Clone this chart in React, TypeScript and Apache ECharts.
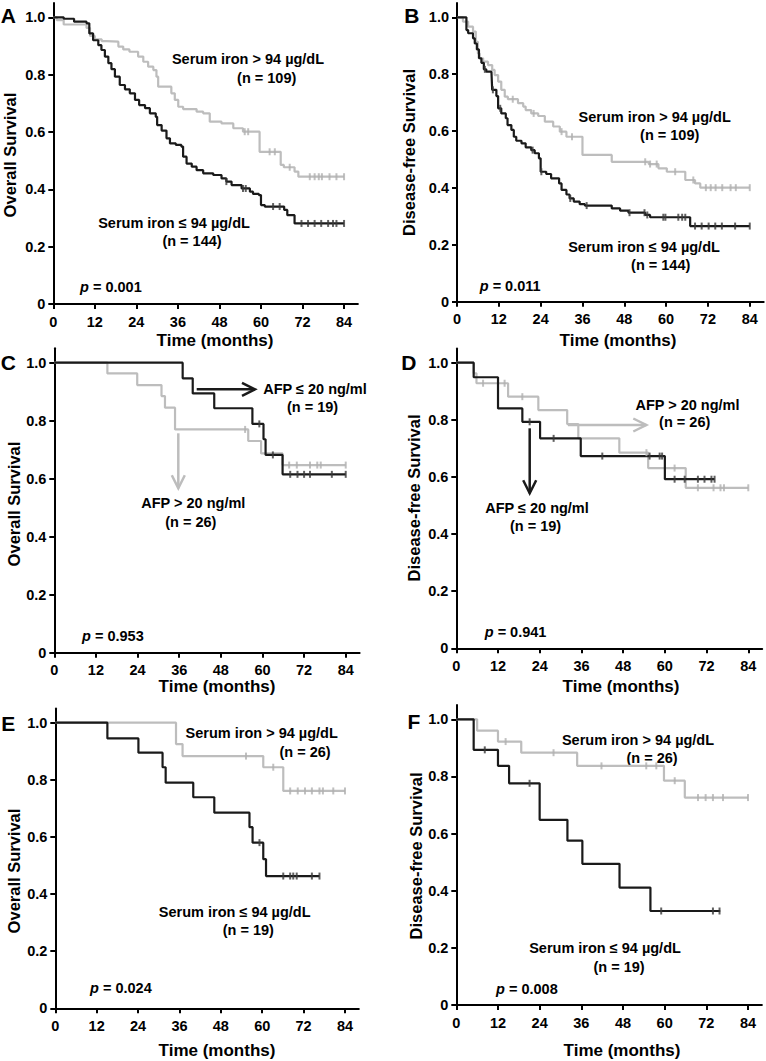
import React, { useEffect, useRef } from "react";
import * as echarts from "echarts";

const FONT = '"Liberation Sans", Arial, sans-serif';
const xTicks = [0, 12, 24, 36, 48, 60, 72, 84];
const yTicks = [0, 0.2, 0.4, 0.6, 0.8, 1.0];

// ---- Panel A (Overall survival, serum iron) ----
const aHighT = [0, 1, 3, 9.6, 10.6, 12, 14, 15.4, 18.8, 20.2, 22, 24.5, 26, 27.4, 28.9, 29.8, 30.3, 34.1, 35.1, 36.1, 37.5, 41.4, 43.3, 45.2, 48.6, 52, 54.8, 59.6, 65.7, 66.6, 69.7, 70.8, 84];
const aHighS = [1, 0.99, 0.975, 0.963, 0.935, 0.923, 0.917, 0.915, 0.898, 0.888, 0.88, 0.863, 0.845, 0.828, 0.816, 0.793, 0.758, 0.735, 0.712, 0.688, 0.68, 0.671, 0.665, 0.636, 0.63, 0.613, 0.601, 0.531, 0.485, 0.477, 0.462, 0.444, 0.444];
const aHighC = [55.3, 56.3, 62.5, 64, 68.3, 74.1, 75.5, 76.7, 77.6, 79.8, 81.8, 84];
const aLowT = [0, 3, 6, 9.6, 10.4, 11.5, 13, 13.9, 14.9, 15.9, 16.8, 17.8, 19.2, 20.7, 22.1, 23.6, 24.8, 26.5, 27.9, 29.6, 30, 31.3, 32.7, 33.7, 35.4, 37, 37.5, 38.5, 40, 41.4, 43.3, 46.2, 48.6, 50, 51.5, 54.4, 56.8, 57.7, 59.4, 60, 61.1, 66.7, 67.6, 69.7, 84];
const aLowS = [1, 0.995, 0.985, 0.979, 0.944, 0.92, 0.903, 0.886, 0.863, 0.84, 0.819, 0.793, 0.764, 0.749, 0.735, 0.712, 0.694, 0.683, 0.665, 0.653, 0.624, 0.605, 0.578, 0.56, 0.555, 0.549, 0.514, 0.49, 0.479, 0.467, 0.456, 0.45, 0.438, 0.427, 0.415, 0.403, 0.392, 0.384, 0.38, 0.345, 0.34, 0.328, 0.31, 0.281, 0.281];
const aLowC = [50, 54.8, 55.6, 63.5, 65.4, 71.7, 73.6, 75.5, 77.4, 79.4, 80.8, 81.8, 84];

// ---- Panel B (Disease-free survival, serum iron) ----
const bHighT = [0, 1.7, 3.2, 4.6, 5.4, 6, 6.5, 7.5, 8.9, 10.1, 10.8, 11.8, 12.7, 13.7, 14.6, 17.5, 19, 19.7, 21.3, 23.3, 25.2, 27.6, 29.5, 31.4, 36, 44.4, 55, 57.8, 60.2, 65.5, 68.3, 69.8, 84];
const bHighS = [1, 0.985, 0.967, 0.95, 0.914, 0.873, 0.856, 0.844, 0.832, 0.815, 0.797, 0.774, 0.745, 0.721, 0.712, 0.698, 0.686, 0.674, 0.662, 0.653, 0.633, 0.616, 0.598, 0.58, 0.516, 0.492, 0.484, 0.469, 0.457, 0.428, 0.416, 0.401, 0.401];
const bHighC = [16, 22, 30, 33, 54, 55.4, 57.3, 62.6, 67.8, 71.4, 72.8, 74.2, 76.1, 78.5, 80, 84];
const bLowT = [0, 2.7, 3.2, 4.6, 5.1, 5.7, 6.3, 7, 7.7, 8.4, 9.9, 10.1, 11.3, 11.8, 12.7, 14, 14.5, 15.6, 16.3, 17, 18.5, 19.7, 21.3, 22.3, 23.5, 24, 25.6, 27, 29.3, 30, 31.4, 32.3, 33.5, 35.2, 36.7, 44.4, 46.8, 49.2, 54, 55.4, 66.9, 84];
const bLowS = [1, 0.955, 0.944, 0.926, 0.908, 0.887, 0.856, 0.84, 0.817, 0.809, 0.803, 0.745, 0.723, 0.68, 0.662, 0.645, 0.621, 0.604, 0.58, 0.566, 0.557, 0.543, 0.533, 0.522, 0.504, 0.457, 0.449, 0.434, 0.416, 0.393, 0.377, 0.363, 0.352, 0.343, 0.338, 0.328, 0.32, 0.313, 0.305, 0.297, 0.266, 0.266];
const bLowC = [8, 10.3, 12.4, 21.7, 24.2, 32.5, 37.2, 49.5, 53.8, 54.6, 59.2, 59.8, 63.5, 64.6, 65.5, 68.3, 70.2, 72.2, 74.1, 76, 79.8, 84];

// ---- Panel C (Overall survival, AFP) ----
const cHighT = [0, 15.3, 23.9, 30.9, 31.9, 34.8, 55.9, 59.6, 65.8, 84];
const cHighS = [1, 0.963, 0.923, 0.885, 0.845, 0.77, 0.73, 0.687, 0.647, 0.647];
const cHighC = [55, 67.7, 69.9, 73.7, 75.8, 76.8, 84];
const cLowT = [0, 37, 39.9, 46.1, 57.1, 60.3, 60.9, 65.8, 84];
const cLowS = [1, 0.946, 0.894, 0.843, 0.789, 0.736, 0.682, 0.615, 0.615];
const cLowC = [59.1, 63, 68, 70.1, 72, 73.7, 80, 84];

// ---- Panel D (Disease-free survival, AFP) ----
const dHighT = [0, 5, 5.8, 14.9, 23.6, 31.9, 35.1, 46.9, 55.2, 66, 84];
const dHighS = [1, 0.963, 0.928, 0.881, 0.834, 0.785, 0.735, 0.685, 0.631, 0.562, 0.562];
const dHighC = [7.7, 13.9, 19, 54.7, 62.8, 69.5, 74, 76, 77, 84];
const dLowT = [0, 5, 12, 19, 24.1, 35.8, 60, 74.3];
const dLowS = [1, 0.949, 0.84, 0.793, 0.735, 0.673, 0.592, 0.592];
const dLowC = [21.1, 28, 42, 55.6, 58.5, 59.2, 62.8, 65.7, 69.5, 71.4, 73.4, 74.3];

// ---- Panel E (Overall survival, serum iron, AFP subgroup) ----
const eHighT = [0, 35, 36.9, 60.3, 66.1, 84];
const eHighS = [1, 0.925, 0.883, 0.844, 0.761, 0.761];
const eHighC = [55.3, 63.2, 68.1, 70.3, 72.4, 74.4, 76.6, 77.6, 80.6, 84];
const eLowT = [0, 15.1, 24.1, 31.1, 32, 40, 46.1, 56.3, 57.2, 60.3, 61.1, 76.6];
const eLowS = [1, 0.945, 0.895, 0.844, 0.79, 0.739, 0.685, 0.634, 0.58, 0.522, 0.463, 0.463];
const eLowC = [59.2, 66.1, 68.1, 69, 70, 74.4, 76.6];

// ---- Panel F (Disease-free survival, serum iron, AFP subgroup) ----
const fHighT = [0, 6, 12, 18.7, 34.8, 59.8, 65.8, 84];
const fHighS = [1, 0.96, 0.922, 0.883, 0.837, 0.785, 0.726, 0.726];
const fHighC = [14.2, 28, 41.8, 54.7, 57.6, 62.9, 69.6, 71.8, 73.9, 76.8, 84];
const fLowT = [0, 5, 12, 15.2, 24, 32, 36.3, 47, 55.9, 76];
const fLowS = [1, 0.893, 0.837, 0.776, 0.648, 0.575, 0.494, 0.411, 0.329, 0.329];
const fLowC = [8.2, 21.1, 59, 73.9, 75.8];

const panelData = [
  { high: [aHighT, aHighS, aHighC], low: [aLowT, aLowS, aLowC] },
  { high: [bHighT, bHighS, bHighC], low: [bLowT, bLowS, bLowC] },
  { high: [cHighT, cHighS, cHighC], low: [cLowT, cLowS, cLowC] },
  { high: [dHighT, dHighS, dHighC], low: [dLowT, dLowS, dLowC] },
  { high: [eHighT, eHighS, eHighC], low: [eLowT, eLowS, eLowC] },
  { high: [fHighT, fHighS, fHighC], low: [fLowT, fLowS, fLowC] },
];

// layout (pixels)
const grids = [
  { left: 53.3, top: 3, width: 304.6, height: 301 },
  { left: 457, top: 3.1, width: 306.7, height: 298.6 },
  { left: 54.3, top: 348.2, width: 305.3, height: 304.5 },
  { left: 456.3, top: 348.4, width: 305.9, height: 299.9 },
  { left: 55.3, top: 708.4, width: 303.5, height: 299.9 },
  { left: 456.3, top: 705, width: 305.6, height: 300 },
];

const BLACK = "#1a1a1a";
const GREY = "#bdbdbd";

function survAt(t: number[], s: number[], ct: number) {
  let v = s[0];
  for (let i = 0; i < t.length; i++) if (t[i] <= ct) v = s[i];
  return v;
}

function txt(text: string, x: number, y: number, size: number, rot = 0, style = "bold", align = "center") {
  return {
    type: "text",
    x,
    y,
    rotation: rot,
    silent: true,
    style: {
      text,
      fill: "#000",
      font: `${style} ${size}px ${FONT}`,
      align,
      verticalAlign: "middle",
      textAlign: align,
      textVerticalAlign: "middle",
    },
  };
}

function pval(label: string, x: number, y: number) {
  return [txt("p", x, y, 14.5, 0, "italic bold", "left"), txt(" = " + label, x + 8.9, y, 14.5, 0, "bold", "left")];
}

function arrow(x1: number, y1: number, x2: number, y2: number, color: string, dir: string) {
  const h = 13, w = 6.5;
  let head: number[][];
  if (dir === "right") head = [[x2 - h, y2 - w], [x2, y2], [x2 - h, y2 + w]];
  else head = [[x2 - w, y2 - h], [x2, y2], [x2 + w, y2 - h]];
  return [
    { type: "line", silent: true, shape: { x1, y1, x2, y2 }, style: { stroke: color, lineWidth: 2.5 } },
    { type: "polyline", silent: true, shape: { points: head }, style: { stroke: color, lineWidth: 2.5, fill: null } },
  ];
}

export default function App() {
  const ref = useRef<HTMLDivElement>(null);
  useEffect(() => {
    if (!ref.current) return;
    const chart = echarts.init(ref.current, undefined, { renderer: "svg" });
    const series: any[] = [];
    panelData.forEach((p, i) => {
      const groups = [
        { d: p.high, color: GREY, mark: "#b0b0b0", z: 2 },
        { d: p.low, color: BLACK, mark: "#3a3a3a", z: 3 },
      ];
      groups.forEach((g) => {
        const [t, s, c] = g.d as number[][];
        series.push({
          type: "line",
          xAxisIndex: i,
          yAxisIndex: i,
          step: "end",
          symbol: "none",
          showSymbol: false,
          data: t.map((x, k) => [x, s[k]]),
          lineStyle: { color: g.color, width: 2.2 },
          z: g.z,
          silent: true,
        });
        series.push({
          type: "scatter",
          xAxisIndex: i,
          yAxisIndex: i,
          symbol: "rect",
          symbolSize: [2, 7],
          data: c.map((ct) => [ct, survAt(t, s, ct)]),
          itemStyle: { color: g.mark },
          z: g.z + 2,
          silent: true,
        });
      });
    });

    const axisCommon = {
      axisLine: { show: true, onZero: false, lineStyle: { color: "#000", width: 2 } },
      splitLine: { show: false },
    };

    const graphic: any[] = [
      // panel letters
      txt("A", 8.3, 15.8, 21), txt("B", 411.8, 15.8, 21), txt("C", 8.3, 362.5, 21),
      txt("D", 408.8, 362.5, 21), txt("E", 8.3, 723, 21), txt("F", 413.8, 721.7, 21),
      // axis titles
      txt("Time (months)", 215, 340, 17), txt("Time (months)", 618, 340, 17),
      txt("Time (months)", 217, 686, 17), txt("Time (months)", 621, 686, 17),
      txt("Time (months)", 217, 1050, 17), txt("Time (months)", 622, 1050, 17),
      txt("Overall Survival", 10, 155, 16.5, Math.PI / 2),
      txt("Disease-free Survival", 408.5, 152.5, 16.5, Math.PI / 2),
      txt("Overall Survival", 14, 504, 16.5, Math.PI / 2),
      txt("Disease-free Survival", 414, 498, 16.5, Math.PI / 2),
      txt("Overall Survival", 14, 871, 16.5, Math.PI / 2),
      txt("Disease-free Survival", 416, 856, 16.5, Math.PI / 2),
      // A
      txt("Serum iron > 94 µg/dL", 248, 59.3, 14.5), txt("(n = 109)", 266.7, 78.3, 14.5),
      txt("Serum iron ≤ 94 µg/dL", 174, 222.7, 14.5), txt("(n = 144)", 192, 240.7, 14.5),
      ...pval("0.001", 80, 287.3),
      // B
      txt("Serum iron > 94 µg/dL", 654.7, 116.7, 14.5), txt("(n = 109)", 669.7, 135, 14.5),
      txt("Serum iron ≤ 94 µg/dL", 644, 246.7, 14.5), txt("(n = 144)", 660.7, 265, 14.5),
      ...pval("0.011", 479.7, 286),
      // C
      txt("AFP ≤ 20 ng/ml", 315, 389.3, 14.5), txt("(n = 19)", 312.5, 406.7, 14.5),
      txt("AFP > 20 ng/ml", 193.3, 503.3, 14.5), txt("(n = 26)", 190.8, 521.7, 14.5),
      ...pval("0.953", 82, 636),
      ...arrow(196.7, 389.3, 255, 389.3, BLACK, "right"),
      ...arrow(178.3, 433.3, 178.3, 488.3, GREY, "down"),
      // D
      txt("AFP > 20 ng/ml", 687.5, 405, 14.5), txt("(n = 26)", 684.7, 421.7, 14.5),
      txt("AFP ≤ 20 ng/ml", 537, 508.3, 14.5), txt("(n = 19)", 535.5, 526, 14.5),
      ...pval("0.941", 484.7, 631.7),
      ...arrow(568, 425, 646.3, 425, GREY, "right"),
      ...arrow(529.7, 428.3, 529.7, 493.3, BLACK, "down"),
      // E
      txt("Serum iron > 94 µg/dL", 261.7, 733.3, 14.5), txt("(n = 26)", 305, 751.7, 14.5),
      txt("Serum iron ≤ 94 µg/dL", 234.7, 911.7, 14.5), txt("(n = 19)", 248.3, 930, 14.5),
      ...pval("0.024", 90, 988.3),
      // F
      txt("Serum iron > 94 µg/dL", 638, 740, 14.5), txt("(n = 26)", 652, 758.3, 14.5),
      txt("Serum iron ≤ 94 µg/dL", 605, 948.3, 14.5), txt("(n = 19)", 619, 966.7, 14.5),
      ...pval("0.008", 496, 989.3),
    ];

    chart.setOption({
      animation: false,
      backgroundColor: "#fff",
      grid: grids.map((g) => ({ ...g, containLabel: false })),
      xAxis: grids.map((_, i) => ({
        type: "value",
        gridIndex: i,
        min: 0,
        max: 88,
        ...axisCommon,
        axisTick: { show: true, length: 5, lineStyle: { color: "#000", width: 2 }, customValues: xTicks },
        axisLabel: {
          customValues: xTicks,
          margin: 10,
          color: "#000",
          fontSize: 14.5,
          fontWeight: "bold",
          fontFamily: FONT,
        },
      })),
      yAxis: grids.map((_, i) => ({
        type: "value",
        gridIndex: i,
        min: 0,
        max: 1.05,
        ...axisCommon,
        axisTick: { show: true, length: 5, lineStyle: { color: "#000", width: 2 }, customValues: yTicks },
        axisLabel: {
          customValues: yTicks,
          margin: 8,
          color: "#000",
          fontSize: 14.5,
          fontWeight: "bold",
          fontFamily: FONT,
          formatter: (v: number) => (v === 0 ? "0" : v.toFixed(1)),
        },
      })),
      series,
      graphic,
    });
    return () => chart.dispose();
  }, []);
  return <div ref={ref} style={{ position: "absolute", left: 0, top: 0, width: 766, height: 1061, background: "#fff" }} />;
}
